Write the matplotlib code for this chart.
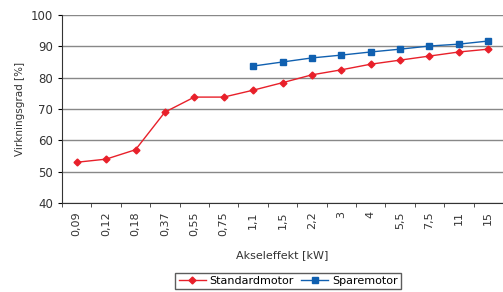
import numpy as np
import matplotlib.pyplot as plt

# effekt-kategorier og virkningsgrader
effekt = ['0,09', '0,12', '0,18', '0,37', '0,55', '0,75', '1,1', '1,5',
          '2,2', '3', '4', '5,5', '7,5', '11', '15']
standard = [53, 54, 57, 69, 73.8, 73.8, 76, 78.4, 80.9, 82.5, 84.3, 85.6, 86.9, 88.2, 89.1]
spare_effekt = effekt[6:]
spare = [83.7, 85, 86.3, 87.2, 88.2, 89.1, 90.1, 90.7, 91.7]

fig = plt.figure(figsize=(5.03, 2.92), dpi=100)
ax = fig.add_axes([62 / 503, 1 - 203 / 292, 441 / 503, 188 / 292])

x = np.arange(len(effekt))
xs = np.arange(6, len(effekt))
ax.plot(x, standard, color='#e8202a', marker='D', markersize=3.5, lw=1,
        label='Standardmotor')
ax.plot(xs, spare, color='#1060b0', marker='s', markersize=4, lw=1,
        label='Sparemotor')

ax.set_xlim(-0.5, len(effekt) - 0.5)
ax.set_ylim(40, 100)
ax.set_yticks(range(40, 101, 10))
ax.set_xticks(x)
ax.set_xticklabels(effekt, rotation=90, fontsize=8, color='#333333')
ax.set_xticks(np.arange(-0.5, len(effekt)), minor=True)
ax.tick_params(axis='x', which='major', length=0, pad=6)
ax.tick_params(axis='x', which='minor', length=3, color='#333333')
ax.tick_params(axis='y', length=3, labelsize=8.5, labelcolor='#333333')
ax.grid(axis='y', color='#888888', lw=1)
ax.set_axisbelow(True)
for s in ['top', 'right']:
    ax.spines[s].set_visible(False)
ax.spines['left'].set_color('#333333')
ax.spines['bottom'].set_color('#333333')

ax.set_xlabel('Akseleffekt [kW]', fontsize=8, color='#333333', labelpad=10)
ax.set_ylabel('Virkningsgrad [%]', fontsize=7.5, color='#333333')

fig.legend(loc='lower center', bbox_to_anchor=(288 / 503, -0.01), ncol=2,
           fontsize=8, frameon=True, fancybox=False, edgecolor='#333333',
           handlelength=2.5, handletextpad=0.3, columnspacing=0.6,
           borderpad=0.3)

fig.savefig('out.png', dpi=100)
